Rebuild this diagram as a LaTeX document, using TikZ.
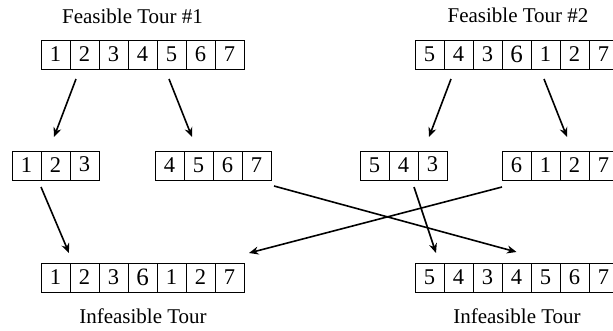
\documentclass[tikz,border=0pt]{standalone}
\usepackage{fontspec}
\setmainfont{Liberation Serif}
\usetikzlibrary{arrows.meta, positioning}

\begin{document}
\begin{tikzpicture}[
    x=1pt, y=-1pt,
    cell/.style={rectangle, draw, line width=0.9pt, minimum width=29pt, minimum height=29pt, inner sep=0pt, outer sep=0pt, font=\fontsize{22.5}{24}\selectfont},
    caption/.style={font=\fontsize{21}{24}\selectfont},
    arrow/.style={-{Stealth[length=9.5pt, width=8pt]}, line width=1.6pt},
]
    \useasboundingbox (0,0) rectangle (613,330);

    \node[caption] (title1) at (132.5,16) {Feasible Tour \#1};
    \node[caption] (title2) at (518,15) {Feasible Tour \#2};
    \node[caption] (bad1) at (143,316) {Infeasible Tour};
    \node[caption] (bad2) at (517,316) {Infeasible Tour};

    \foreach \d [count=\i] in {1,2,3,4,5,6,7}
        \node[cell] (a\i) at ({26.5+29*\i},54.5) {\d};
    \foreach \d [count=\i] in {5,4,3,{\raisebox{-1.5pt}{\fontsize{25}{25}\selectfont 6}},1,2,7}
        \node[cell] (b\i) at ({400.5+29*\i},54.5) {\d};

    \foreach \d [count=\i] in {1,2,{\raisebox{3pt}{3}}}
        \node[cell] (c\i) at ({-2.5+29*\i},165.5) {\d};
    \foreach \d [count=\i] in {4,5,6,7}
        \node[cell] (d\i) at ({140.5+29*\i},165.5) {\d};
    \foreach \d [count=\i] in {5,4,{\raisebox{3pt}{3}}}
        \node[cell] (e\i) at ({345.5+29*\i},165.5) {\d};
    \foreach \d [count=\i] in {6,1,2,7}
        \node[cell] (f\i) at ({487.5+29*\i},165.5) {\d};

    \foreach \d [count=\i] in {1,2,3,{\raisebox{-2.5pt}{\fontsize{25}{25}\selectfont 6}},1,2,7}
        \node[cell] (g\i) at ({26.5+29*\i},277.5) {\d};
    \foreach \d [count=\i] in {5,4,3,4,5,6,7}
        \node[cell] (h\i) at ({400.5+29*\i},277.5) {\d};

    \draw[arrow] ([xshift=6pt,yshift=-10pt]a2.south west) -- ([xshift=-1.5pt,yshift=14pt]c2.north);
    \draw[arrow] ([xshift=12pt,yshift=-10pt]a5.south west) -- ([xshift=-6.5pt,yshift=14pt]d2.north);
    \draw[arrow] ([xshift=7pt,yshift=-10pt]b2.south west) -- ([xshift=-3.5pt,yshift=14pt]e3.north);
    \draw[arrow] ([xshift=13pt,yshift=-10pt]b5.south west) -- ([xshift=-7.5pt,yshift=14pt]f3.north);

    \draw[arrow] ([yshift=-7pt]c2.south west) -- ([xshift=-1pt,yshift=10pt]g1.north east);
    \draw[arrow] ([xshift=3pt,yshift=-6pt]d4.south east) -- ([yshift=11pt]h4.north);
    \draw[arrow] ([yshift=-7pt]f1.south west) -- ([xshift=5pt,yshift=10pt]g7.north east);
    \draw[arrow] ([xshift=-4pt,yshift=-7pt]e3.south west) -- ([xshift=6.5pt,yshift=10pt]h1.north);
\end{tikzpicture}
\end{document}
